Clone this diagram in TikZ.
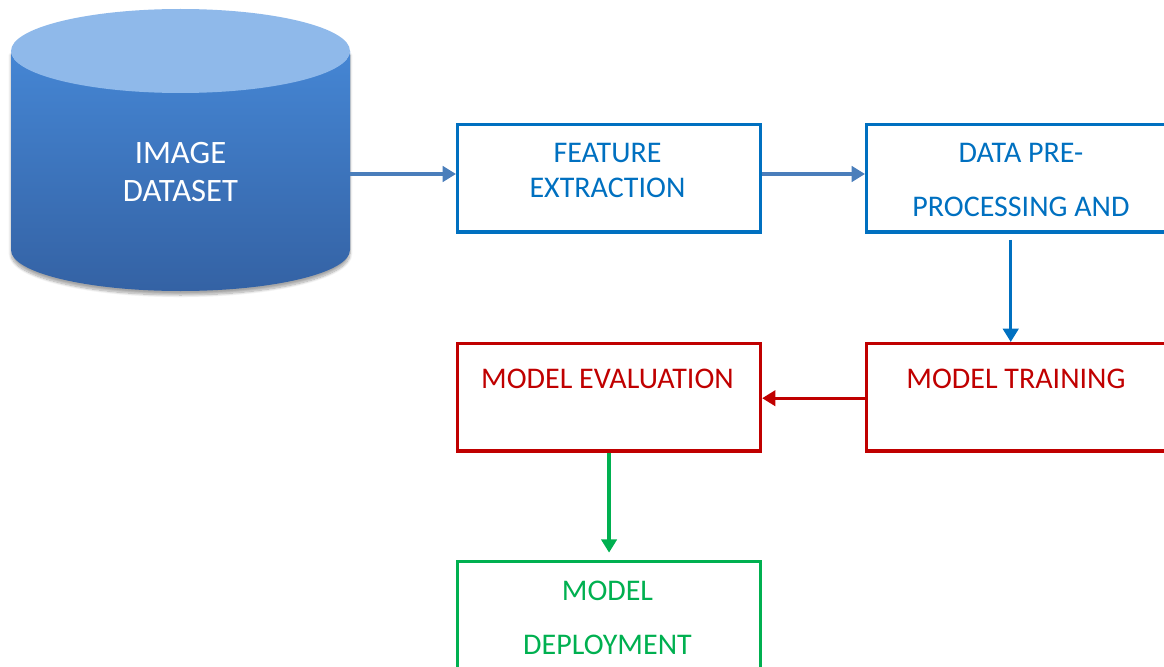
\documentclass[tikz,border=0pt]{standalone}
\usepackage{fontspec}
\setmainfont{Carlito}
\usetikzlibrary{arrows.meta,shadows.blur}
\definecolor{cylTop}{HTML}{8FB9EA}
\definecolor{cylHi}{HTML}{4586D4}
\definecolor{cylLo}{HTML}{3462A4}
\definecolor{flowArrow}{HTML}{4A7EBB}
\definecolor{prepBlue}{HTML}{0070C0}
\definecolor{trainRed}{HTML}{C00000}
\definecolor{deployGreen}{HTML}{00B050}
\begin{document}
\begin{tikzpicture}[x=0.75pt,y=-0.75pt,
  stagebox/.style={rectangle, draw, line width=2.6pt, inner sep=0pt,
    minimum width=227pt, minimum height=80.5pt, anchor=north west},
  stagetext/.style={anchor=base, inner sep=0pt, font=\fontsize{22.5}{25}\selectfont},
  dbtext/.style={anchor=base, inner sep=0pt, text=white, font=\fontsize{24.5}{27}\selectfont},
  link/.style={line width=2.5pt, -{Triangle[length=10pt,width=11.5pt]}}]
\useasboundingbox (0,0) rectangle (1164,667);
\clip (0,0) rectangle (1164,667);

% database cylinder
\path[blur shadow={shadow xshift=0pt, shadow yshift=-3pt, shadow blur steps=10, shadow opacity=35},
  top color=cylHi, bottom color=cylLo]
  (11,51) -- (11,250) arc[start angle=180, end angle=360, x radius=169.5, y radius=-41]
  -- (350,51) arc[start angle=0, end angle=180, x radius=169.5, y radius=41] -- cycle;
\fill[cylTop] (180.5,51) ellipse[x radius=169.5, y radius=42];
\node[dbtext] (img-a) at (180.5,163) {IMAGE};
\node[dbtext] (img-b) at (180.5,201) {DATASET};
\coordinate (cylR) at (350,174);

% processing stages
\node[stagebox, draw=prepBlue] (feat) at (456,123) {};
\node[stagetext, text=prepBlue] (feat-a) at (607.5,162) {FEATURE};
\node[stagetext, text=prepBlue] (feat-b) at (607.5,197) {EXTRACTION};

\node[stagebox, draw=prepBlue] (prep) at (865,123) {};
\node[stagetext, text=prepBlue] (prep-a) at (1021,162) {DATA PRE-};
\node[stagetext, text=prepBlue] (prep-b) at (1021,216) {PROCESSING AND};

\node[stagebox, draw=trainRed] (train) at (865,342) {};
\node[stagetext, text=trainRed] (train-a) at (1016,388) {MODEL TRAINING};

\node[stagebox, draw=trainRed] (eval) at (456,342) {};
\node[stagetext, text=trainRed] (eval-a) at (607.5,388) {MODEL EVALUATION};

\node[stagebox, draw=deployGreen] (deploy) at (456,560) {};
\node[stagetext, text=deployGreen] (deploy-a) at (607.5,600) {MODEL};
\node[stagetext, text=deployGreen] (deploy-b) at (607.5,654) {DEPLOYMENT};

% connectors
\draw[link, flowArrow] (cylR) -- (cylR -| feat.west);
\draw[link, flowArrow] (cylR -| feat.east) -- (cylR -| prep.west);
\draw[link, prepBlue, shorten <=4.5pt] ([xshift=-5.5pt]prep.south) -- ([xshift=-5.5pt]train.north);
\draw[link, trainRed] ([yshift=-0.6pt]train.west) -- ([yshift=-0.6pt]eval.east);
\draw[link, deployGreen, shorten >=5.5pt] (eval.south) -- (deploy.north);
\end{tikzpicture}
\end{document}
